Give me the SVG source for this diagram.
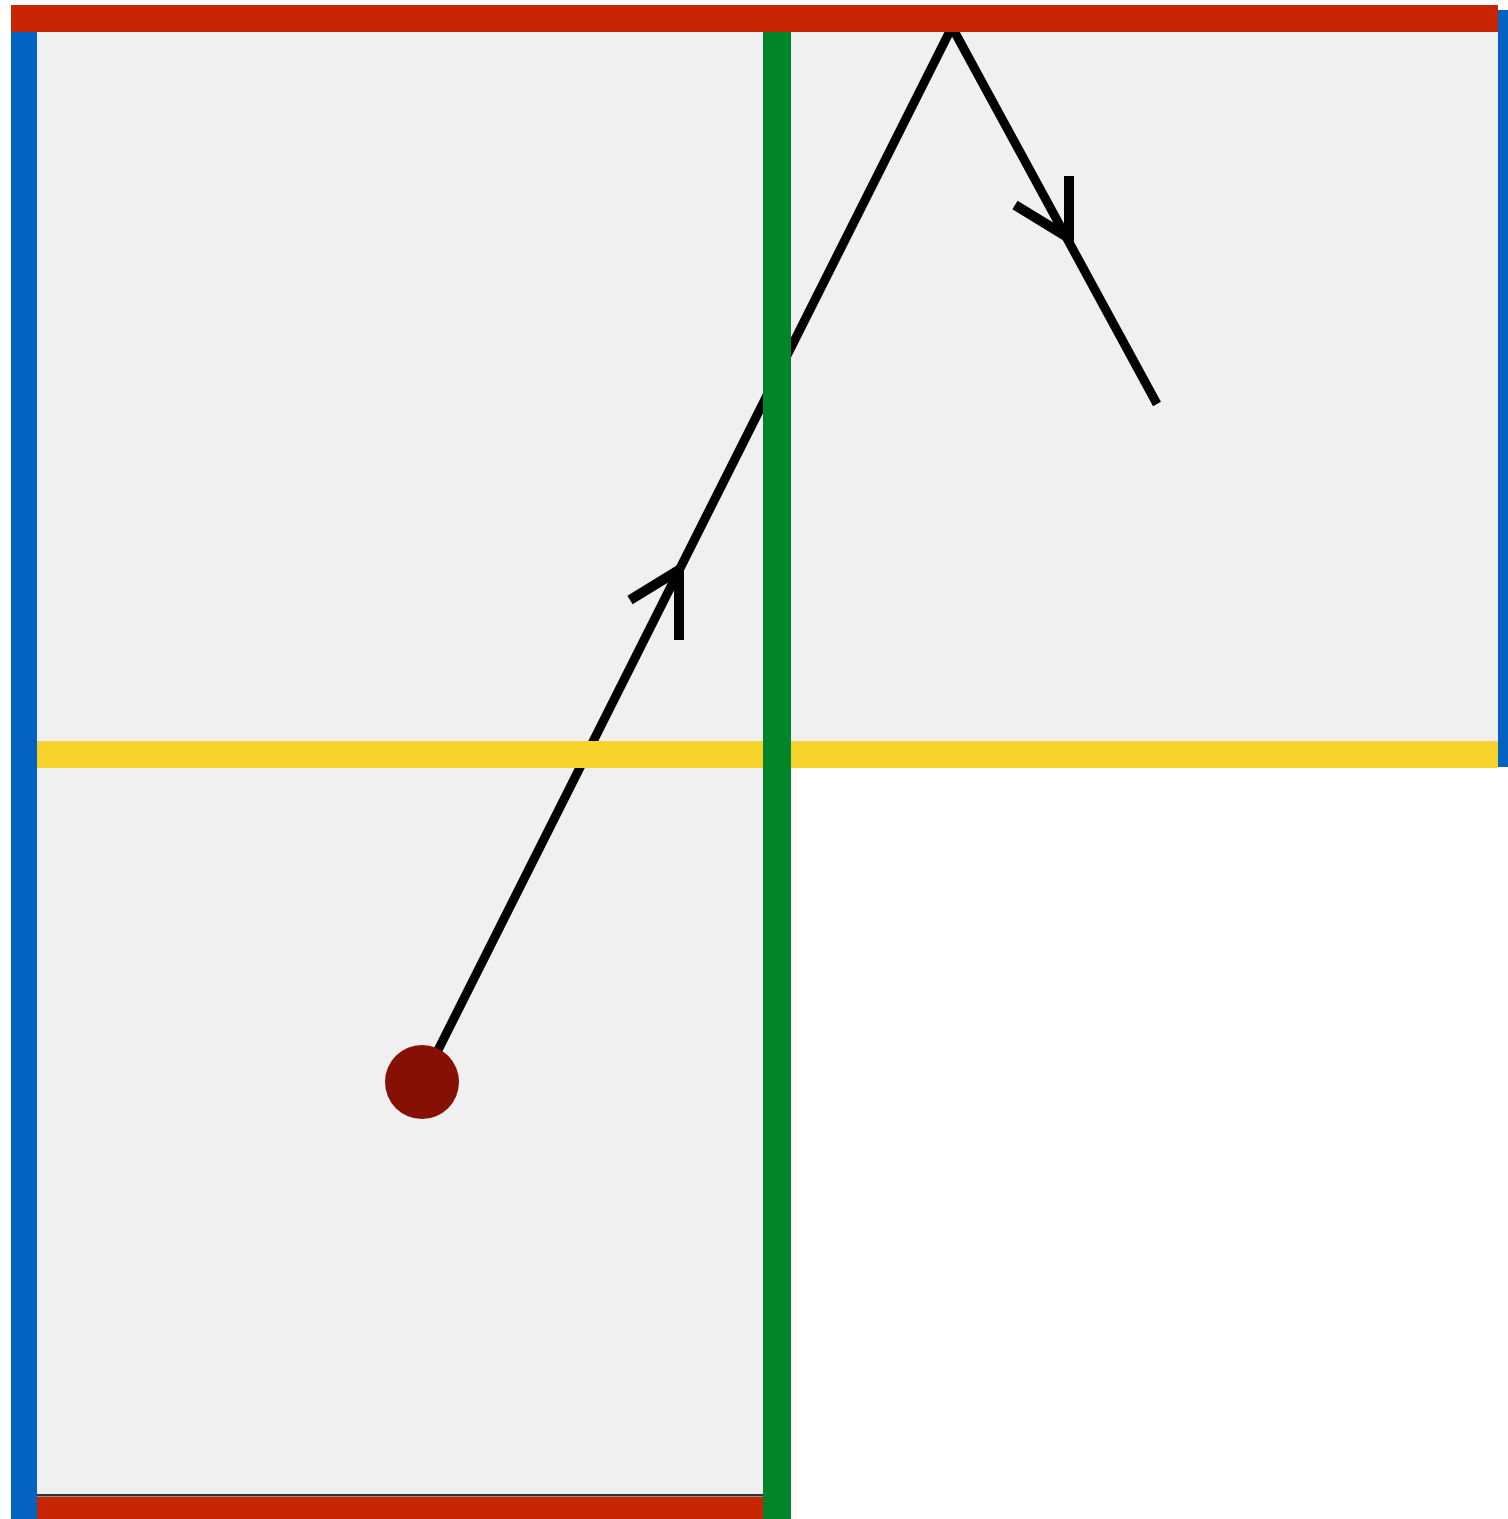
<svg xmlns="http://www.w3.org/2000/svg" width="1508" height="1519" viewBox="0 0 1508 1519">
  <style>
    .floor { fill: #f0f0f0; }
    .red { fill: #c82505; }
    .blue { fill: #0463c2; }
    .green { fill: #02852a; }
    .yellow { fill: #f7d42c; }
    .ray { fill: none; stroke: #000; stroke-width: 9; stroke-linejoin: miter; }
    .barb { fill: none; stroke: #000; stroke-width: 10; stroke-linecap: butt; stroke-linejoin: miter; }
  </style>
  <rect x="0" y="0" width="1508" height="1519" fill="#ffffff"/>
  <g id="room-lower-left">
    <rect class="floor" x="37" y="32" width="726" height="1465"/>
  </g>
  <g id="room-upper-right">
    <rect class="floor" x="791" y="32" width="707" height="709"/>
  </g>
  <g id="connectors">
    <polyline class="ray" points="422,1082 952,27 1157,404"/>
    <polyline class="barb" points="630,600 679,570 679,640"/>
    <polyline class="barb" points="1015,205 1069,238 1069,176"/>
  </g>
  <g id="walls">
    <rect class="yellow" x="37" y="741" width="1461" height="27"/>
    <rect class="green" x="763" y="5" width="28" height="1514"/>
    <rect class="red" x="11" y="5" width="1487" height="27"/>
    <rect class="blue" x="11" y="32" width="26" height="1487"/>
    <rect class="blue" x="1498" y="10" width="10" height="757"/>
    <rect x="37" y="1494" width="726" height="2.5" fill="#333333"/>
    <rect class="red" x="37" y="1497" width="726" height="22"/>
  </g>
  <g id="ball">
    <circle cx="422" cy="1082" r="37" fill="#861003"/>
  </g>
</svg>
